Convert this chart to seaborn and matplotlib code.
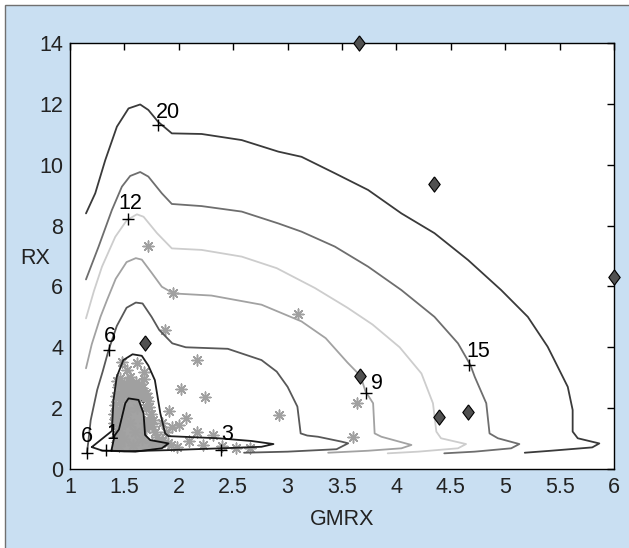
import numpy as np
import matplotlib
matplotlib.use("Agg")
import matplotlib.pyplot as plt
import seaborn as sns
from matplotlib.patches import Rectangle
from matplotlib.ticker import FormatStrFormatter

# ---------------- data ----------------
L20_x = [1.147, 1.232, 1.324, 1.431, 1.538, 1.645, 1.72, 1.81, 1.936, 2.21, 2.578, 2.915, 3.128, 3.434, 3.74,
         4.046, 4.35, 4.658, 4.963, 5.208, 5.39, 5.452, 5.575, 5.62, 5.62, 5.667, 5.865, 5.80, 5.42, 5.18]
L20_y = [8.40, 9.06, 10.15, 11.25, 11.85, 11.98, 11.80, 11.41, 11.03, 11.01, 10.81, 10.43, 10.26, 9.72, 9.17,
         8.40, 7.75, 6.87, 5.88, 5.0, 4.02, 3.58, 2.70, 1.94, 1.23, 1.01, 0.84, 0.71, 0.60, 0.535]

L15_x = [1.147, 1.263, 1.385, 1.477, 1.553, 1.645, 1.72, 1.844, 1.936, 2.21, 2.578, 2.915, 3.128, 3.434, 3.74,
         4.046, 4.35, 4.566, 4.68, 4.72, 4.826, 4.856, 4.933, 5.13, 5.055, 4.72, 4.44]
L15_y = [6.23, 7.31, 8.51, 9.28, 9.63, 9.76, 9.61, 9.06, 8.71, 8.64, 8.46, 8.07, 7.80, 7.31, 6.65,
         5.88, 5.0, 4.13, 3.42, 3.03, 2.16, 1.17, 1.01, 0.82, 0.68, 0.57, 0.515]

L12_x = [1.147, 1.22, 1.294, 1.416, 1.523, 1.615, 1.676, 1.80, 1.936, 2.21, 2.578, 2.9, 3.25, 3.55, 3.78,
         4.03, 4.23, 4.336, 4.367, 4.41, 4.64, 4.566, 4.2, 3.92]
L12_y = [4.95, 5.85, 6.65, 7.63, 8.18, 8.37, 8.29, 7.75, 7.25, 7.20, 6.98, 6.6, 5.95, 5.3, 4.75,
         4.0, 3.14, 2.16, 1.23, 1.01, 0.82, 0.68, 0.57, 0.515]

L9_x = [1.147, 1.2, 1.28, 1.34, 1.42, 1.52, 1.605, 1.66, 1.75, 1.844, 1.951, 2.3, 2.76, 3.128, 3.35, 3.55,
        3.67, 3.716, 3.786, 3.80, 3.862, 4.138, 4.046, 3.74, 3.373]
L9_y = [3.31, 4.1, 5.0, 5.55, 6.25, 6.8, 6.93, 6.88, 6.45, 5.99, 5.77, 5.7, 5.4, 4.85, 4.3, 3.5,
        3.06, 2.55, 2.16, 1.17, 1.06, 0.79, 0.68, 0.60, 0.535]

L6_x = [1.156, 1.17, 1.19, 1.25, 1.30, 1.355, 1.43, 1.52, 1.605, 1.667, 1.75, 1.82, 1.94, 2.064, 2.45, 2.76,
        2.9, 3.0, 3.09, 3.12, 3.18, 3.28, 3.495, 3.557, 3.45, 3.0, 2.6]
L6_y = [0.535, 0.95, 1.6, 2.6, 3.2, 3.91, 4.7, 5.3, 5.47, 5.44, 5.0, 4.57, 4.13, 4.0, 3.95, 3.58,
        3.2, 2.7, 2.05, 1.17, 1.1, 1.06, 0.90, 0.845, 0.65, 0.57, 0.535]

L3_x = [1.2, 1.385, 1.39, 1.40, 1.43, 1.49, 1.575, 1.66, 1.72, 1.78, 1.83, 1.875, 1.905, 2.364, 2.67, 2.87,
        2.76, 2.39, 1.905, 1.5, 1.3, 1.2]
L3_y = [0.72, 1.25, 1.6, 2.27, 3.03, 3.58, 3.77, 3.72, 3.4, 2.92, 1.83, 1.17, 1.08, 1.01, 0.92, 0.82,
        0.73, 0.68, 0.62, 0.58, 0.6, 0.72]

L1_x = [1.38, 1.41, 1.45, 1.477, 1.508, 1.538, 1.63, 1.676, 1.69, 1.737, 1.905, 1.844, 1.6, 1.38]
L1_y = [0.60, 1.1, 1.3, 1.7, 2.16, 2.32, 2.27, 1.83, 1.12, 0.95, 0.84, 0.68, 0.57, 0.60]

star_x = [1.40, 1.40, 1.41, 1.42, 1.44, 1.45, 1.45, 1.46, 1.47, 1.48, 1.50, 1.52, 1.55, 1.58, 1.60, 1.63,
          1.66, 1.70, 1.72, 1.70, 1.74, 1.72, 1.75, 1.70, 1.78, 1.80, 1.85, 1.90, 1.75, 1.43, 1.48, 1.55,
          1.68, 1.68, 1.46, 1.52, 1.62, 1.43, 1.50, 1.55, 1.60, 1.52, 1.62, 1.58, 1.66,
          1.42, 1.44, 1.41, 1.43, 1.46, 1.48, 1.47, 1.45, 1.49, 1.51, 1.53, 1.56, 1.59, 1.64, 1.67,
          1.71, 1.73, 1.76, 1.69, 1.65, 1.61, 1.57, 1.54, 1.50, 1.44,
          1.98, 2.09, 2.22, 2.31, 2.17, 2.53, 2.00, 1.94, 2.07, 1.91, 2.02, 2.24, 2.17, 1.87, 1.95, 1.72,
          3.10, 2.92, 3.64, 3.60, 1.93, 2.40, 2.65, 1.85, 1.88]
star_y = [1.5, 1.8, 2.1, 2.4, 2.7, 1.2, 1.6, 1.95, 2.3, 2.55, 2.8, 2.5, 2.6, 2.45, 2.7, 2.5,
          2.65, 2.5, 2.25, 2.0, 1.8, 1.6, 1.4, 1.3, 1.2, 1.05, 0.95, 0.85, 0.9, 0.9, 3.53, 3.03,
          3.2, 2.95, 3.0, 3.25, 3.5, 2.9, 1.0, 1.5, 1.2, 1.9, 2.0, 0.8, 1.0,
          1.05, 1.35, 1.65, 1.95, 2.2, 2.0, 1.45, 0.75, 1.75, 2.65, 2.35, 2.45, 2.55, 2.35, 2.45,
          2.35, 2.05, 1.6, 1.5, 2.8, 2.85, 2.8, 2.9, 2.45, 2.5,
          0.73, 0.93, 0.79, 1.12, 1.23, 0.68, 1.43, 1.37, 1.67, 1.9, 2.62, 2.37, 3.57, 4.57, 5.79, 7.33,
          5.1, 1.78, 2.16, 1.06, 0.79, 0.75, 0.70, 1.5, 1.2]

diamond_x = [3.66, 4.35, 6.0, 1.69, 3.67, 4.39, 4.66]
diamond_y = [14.0, 9.38, 6.3, 4.13, 3.06, 1.70, 1.86]
hidden_diamond_x = [1.67]
hidden_diamond_y = [2.42]

label_x = [1.805, 1.535, 1.355, 3.716, 4.67, 2.39, 1.33, 1.156]
label_y = [11.3, 8.22, 3.91, 2.51, 3.42, 0.62, 0.62, 0.535]
label_txt = ["20", "12", "6", "9", "15", "3", "1", "6"]
label_off = [(10, 13), (2, 15), (1, 14), (11, 9), (9, 13), (6, 16), (6, 17), (0, 16)]

x_ticks = [1, 1.5, 2, 2.5, 3, 3.5, 4, 4.5, 5, 5.5, 6]
y_ticks = [0, 2, 4, 6, 8, 10, 12, 14]

# ---------------- drawing ----------------
sns.set_style("white")
plt.rcParams['font.family'] = ['Liberation Sans', 'DejaVu Sans']

W, H = 629, 548
FS = 15.5
fig = plt.figure(figsize=(W / 100, H / 100), dpi=100, facecolor='white')
fig.patches.append(Rectangle((5 / W, -0.1), 1.2, 1.1 - 5 / H, transform=fig.transFigure,
                             facecolor='#c9dff2', edgecolor='#707070', lw=1.0, zorder=-10))
ax = fig.add_axes([70 / W, 1 - 469 / H, (614 - 70) / W, (469 - 43) / H])
ax.set_facecolor('white')

diamond = [(0, 1), (0.75, 0), (0, -1), (-0.75, 0), (0, 1)]

# hidden diamond under the star cloud
sns.scatterplot(x=hidden_diamond_x, y=hidden_diamond_y, marker=diamond,
                s=120, color='#505050', edgecolor='black', linewidth=0.8, ax=ax, zorder=1, legend=False)

# filled innermost region
ax.fill(L1_x, L1_y, color='#a3a3a3', lw=0, zorder=1.5)

# stars
sns.scatterplot(x=star_x, y=star_y, marker=(8, 2, 0), s=60, color='#a0a0a0', linewidth=1.1,
                ax=ax, zorder=2, legend=False)

contours = [
    (L20_x, L20_y, '#3a3a3a'),
    (L15_x, L15_y, '#6e6e6e'),
    (L12_x, L12_y, '#cdcdcd'),
    (L9_x, L9_y, '#a2a2a2'),
    (L6_x, L6_y, '#585858'),
    (L3_x, L3_y, '#1e1e1e'),
    (L1_x, L1_y, '#111111'),
]
for xs, ys, c in contours:
    sns.lineplot(x=xs, y=ys, sort=False, estimator=None, color=c, lw=1.3, ax=ax, zorder=3, legend=False)

# diamonds
sns.scatterplot(x=diamond_x, y=diamond_y, marker=diamond,
                s=120, color='#505050', edgecolor='black', linewidth=0.8, ax=ax, zorder=5,
                legend=False, clip_on=False)

# contour labels with + markers
sns.scatterplot(x=label_x, y=label_y, marker='+', s=80, color='black', linewidth=1.0,
                ax=ax, zorder=6, legend=False)
for x, y, t, off in zip(label_x, label_y, label_txt, label_off):
    ax.annotate(t, (x, y), xytext=off, textcoords='offset pixels', ha='center', va='center',
                fontsize=FS, color='black', zorder=7)

ax.set_xlim(1, 6)
ax.set_ylim(0, 14)
ax.set_xticks(x_ticks)
ax.set_yticks(y_ticks)
ax.xaxis.set_major_formatter(FormatStrFormatter('%g'))
ax.yaxis.set_major_formatter(FormatStrFormatter('%g'))
ax.tick_params(direction='in', top=True, right=True, length=5, width=1, labelsize=FS,
               labelcolor='#222222', color='black')
ax.tick_params(axis='x', pad=6)
ax.tick_params(axis='y', pad=5)
for sp in ax.spines.values():
    sp.set_color('black')
    sp.set_linewidth(1.0)

ax.set_xlabel('GMRX', fontsize=FS, color='#222222', labelpad=8)
ax.set_ylabel('')
fig.text(35 / W, 1 - 258 / H, 'RX', fontsize=FS, color='#222222', ha='center', va='center')

fig.savefig('out.png', dpi=100, facecolor=fig.get_facecolor())
